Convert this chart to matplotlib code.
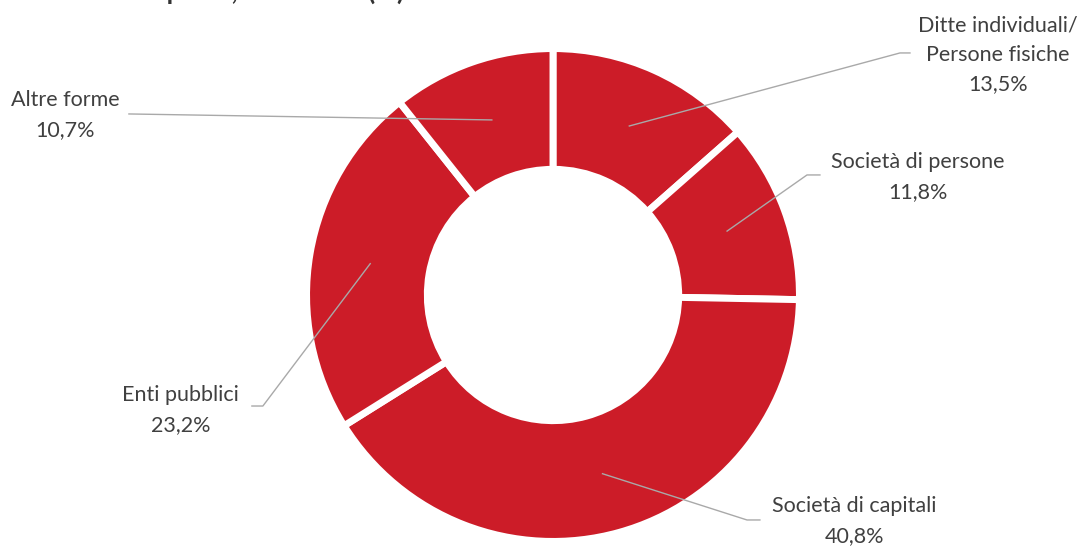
import matplotlib.pyplot as plt
import numpy as np

# dati
labels = ["Ditte individuali/\nPersone fisiche", "Società di persone", "Società di capitali",
          "Enti pubblici", "Altre forme"]
values = [13.5, 11.8, 40.8, 23.2, 10.7]
pct_text = ["13,5%", "11,8%", "40,8%", "23,2%", "10,7%"]

# posizioni etichette (coordinate dati, raggio esterno = 1)
text_pos = [(1.824, 0.984), (1.496, 0.484), (1.234, -0.926), (-1.525, -0.471), (-2.0, 0.738)]
elbow = [(1.422, 0.992), (1.041, 0.492), (0.795, -0.922), (-1.189, -0.455), None]
line_end = [(1.463, 0.992), (1.094, 0.492), (0.848, -0.922), (-1.234, -0.455), (-1.738, 0.742)]

RED = "#CC1C28"
plt.rcParams['font.family'] = ['Lato', 'DejaVu Sans']

fig = plt.figure(figsize=(10.84, 5.47), dpi=100)
ax = fig.add_axes([0, 0, 1, 1])

wedges, _ = ax.pie(values, startangle=90, counterclock=False, colors=[RED] * len(values),
                   radius=1.01, wedgeprops=dict(width=0.495, edgecolor="white", linewidth=5))

for i, w in enumerate(wedges):
    ang = np.deg2rad((w.theta1 + w.theta2) / 2)
    r = 0.76
    x0, y0 = r * np.cos(ang), r * np.sin(ang)
    if elbow[i] is not None:
        xs = [x0, elbow[i][0], line_end[i][0]]
        ys = [y0, elbow[i][1], line_end[i][1]]
    else:
        xs = [x0, line_end[i][0]]
        ys = [y0, line_end[i][1]]
    ax.plot(xs, ys, color="#A9A9A9", lw=1.0, zorder=3)
    ax.text(text_pos[i][0], text_pos[i][1], labels[i] + "\n" + pct_text[i],
            ha="center", va="center", fontsize=15.5,
            color="#404040", linespacing=1.6)

# titolo tagliato in alto (come nel riferimento)
ax.text(-2.205, 1.212, "sostituti d'imposta, anni 2022 (%)", fontsize=19, fontweight="bold",
        color="#333333", ha="left", va="baseline")

ax.set_xlim(-553 / 244, (1084 - 553) / 244)
ax.set_ylim(-(547 - 295) / 244, 295 / 244)
ax.set_aspect("equal")
ax.axis("off")

fig.savefig("out.png", dpi=100)
